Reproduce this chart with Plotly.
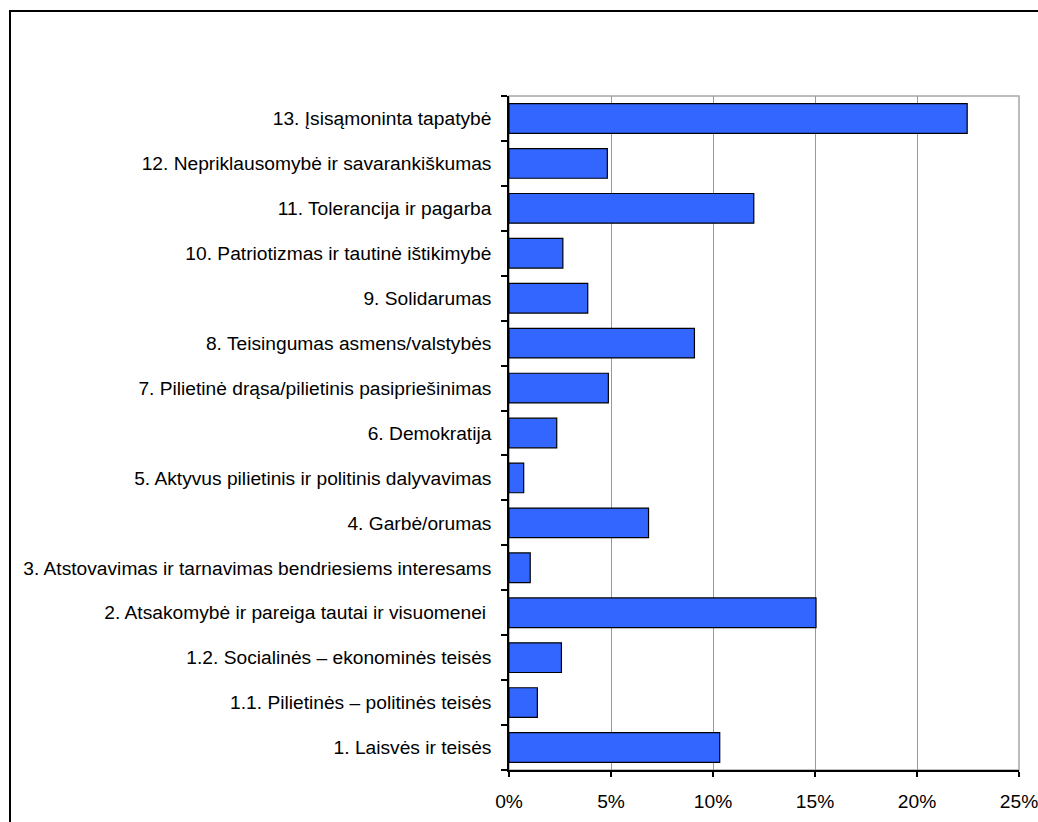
import plotly.graph_objects as go

categories = [
    "1. Laisvės ir teisės",
    "1.1. Pilietinės – politinės teisės",
    "1.2. Socialinės – ekonominės teisės",
    "2. Atsakomybė ir pareiga tautai ir visuomenei\u00a0",
    "3. Atstovavimas ir tarnavimas bendriesiems interesams",
    "4. Garbė/orumas",
    "5. Aktyvus pilietinis ir politinis dalyvavimas",
    "6. Demokratija",
    "7. Pilietinė drąsa/pilietinis pasipriešinimas",
    "8. Teisingumas asmens/valstybės",
    "9. Solidarumas",
    "10. Patriotizmas ir tautinė ištikimybė",
    "11. Tolerancija ir pagarba",
    "12. Nepriklausomybė ir savarankiškumas",
    "13. Įsisąmoninta tapatybė",
]
values = [10.33, 1.39, 2.57, 15.05, 1.04, 6.84, 0.72, 2.34, 4.87, 9.09, 3.86, 2.64, 12.0, 4.82, 22.46]
x_ticks = [0, 5, 10, 15, 20, 25]

FONT = "Liberation Sans, Arial, sans-serif"

fig = go.Figure(
    go.Bar(
        x=values,
        y=categories,
        orientation="h",
        marker=dict(color="#3366FF", line=dict(color="#000000", width=1.2)),
        hoverinfo="x+y",
    )
)

W, H = 1038, 822
L, R, T, B = 509, 1019, 96, 770

fig.update_layout(
    width=W,
    height=H,
    margin=dict(l=L, r=W - R, t=T, b=H - B, autoexpand=False),
    paper_bgcolor="white",
    plot_bgcolor="white",
    bargap=0.34,
    showlegend=False,
    font=dict(family=FONT, size=19.2, color="#000000"),
    xaxis=dict(
        range=[0, 25.0001],
        tickvals=x_ticks,
        ticktext=[f"{v}%" for v in x_ticks],
        showgrid=True,
        gridcolor="#999999",
        gridwidth=1,
        showline=True,
        linecolor="#000000",
        linewidth=1.5,
        ticks="outside",
        ticklen=5,
        tickcolor="#000000",
        tickwidth=1.5,
        zeroline=False,
        ticklabelstandoff=8,
        ticklabeloverflow="allow",
        fixedrange=True,
    ),
    yaxis=dict(
        type="category",
        categoryorder="array",
        categoryarray=categories,
        showgrid=False,
        showline=True,
        linecolor="#000000",
        linewidth=1.5,
        ticks="outside",
        tickson="boundaries",
        ticklen=6,
        tickcolor="#000000",
        tickwidth=1.5,
        zeroline=False,
        ticklabelstandoff=12,
        fixedrange=True,
    ),
    shapes=[
        # grey plot-area frame (top/right)
        dict(type="rect", xref="paper", yref="paper", x0=0, x1=1, y0=0, y1=1,
             line=dict(color="#a6a6a6", width=1.5), layer="below"),
        # outer chart border
        dict(type="rect", xref="paper", yref="paper",
             x0=(10 - L) / (R - L), x1=(W + 20 - L) / (R - L),
             y0=(B - (H + 20)) / (B - T), y1=(B - 11) / (B - T),
             line=dict(color="#000000", width=2), layer="above"),
    ],
)

fig.write_html(
    "out.html",
    config={"displayModeBar": False},
    post_script="document.body.style.margin='0';document.body.style.overflow='hidden';",
)
